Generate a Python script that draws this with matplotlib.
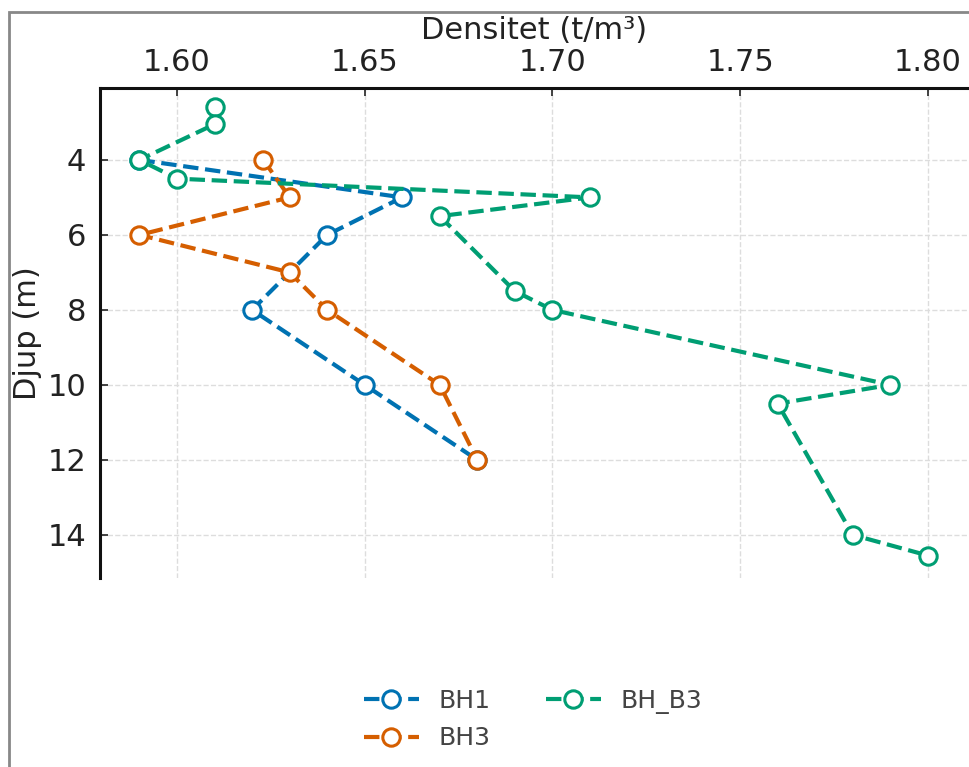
import matplotlib.pyplot as plt
from matplotlib.patches import Rectangle

# density (t/m3) vs depth (m) per borehole
bh1_density = [1.59, 1.66, 1.64, 1.62, 1.65, 1.68]
bh1_depth = [4, 5, 6, 8, 10, 12]

bh3_density = [1.623, 1.63, 1.59, 1.63, 1.64, 1.67, 1.68]
bh3_depth = [4, 5, 6, 7, 8, 10, 12]

bhb3_density = [1.61, 1.61, 1.59, 1.60, 1.71, 1.67, 1.69, 1.70, 1.79, 1.76, 1.78, 1.80]
bhb3_depth = [2.6, 3.05, 4, 4.5, 5, 5.5, 7.5, 8, 10, 10.5, 14, 14.55]

series = [
    ("BH1", bh1_density, bh1_depth, "#0072B2"),
    ("BH3", bh3_density, bh3_depth, "#D55E00"),
    ("BH_B3", bhb3_density, bhb3_depth, "#009E73"),
]

fig = plt.figure(figsize=(9.69, 7.67), dpi=100)
ax = fig.add_axes([0.1032, 0.2464, 0.895, 0.639])

for name, dens, depth, col in series:
    ax.plot(dens, depth, linestyle="--", color=col, lw=3.0,
            marker="o", markersize=12.5, markerfacecolor="white",
            markeredgecolor=col, markeredgewidth=2.2, label=name)

ax.set_xlim(1.5795, 1.8105)
ax.set_ylim(15.15, 2.08)
ax.set_xticks([1.60, 1.65, 1.70, 1.75, 1.80])
ax.set_yticks([4, 6, 8, 10, 12, 14])
ax.xaxis.set_major_formatter(plt.FormatStrFormatter("%.2f"))

ax.xaxis.tick_top()
ax.xaxis.set_label_position("top")
ax.set_xlabel("Densitet (t/m³)", fontsize=22, color="#222222", labelpad=6)
ax.set_ylabel("Djup (m)", fontsize=22, color="#222222", labelpad=4)
ax.tick_params(axis="both", direction="in", length=6, width=1.2,
               labelsize=22, colors="#222222", pad=10)
ax.tick_params(axis="x", pad=8)

for side in ["bottom", "right"]:
    ax.spines[side].set_visible(False)
for side in ["left", "top"]:
    ax.spines[side].set_linewidth(2.2)
    ax.spines[side].set_color("#111111")

ax.grid(True, linestyle="--", color="#dddddd", lw=1.0)
ax.set_axisbelow(True)

leg = ax.legend(loc="center", bbox_to_anchor=(0.55, 0.062),
                bbox_transform=fig.transFigure, ncol=2, frameon=False,
                fontsize=18, handlelength=2.2, handletextpad=0.8,
                columnspacing=2.2, labelspacing=0.55)
for t in leg.get_texts():
    t.set_color("#444444")

# outer frame line seen at left and top of the picture
fig.patches.append(Rectangle((8.5 / 969, -0.05), 1.2, 1.05 - 12 / 767,
                             transform=fig.transFigure, fill=False,
                             edgecolor="#888888", lw=2, clip_on=False))

fig.savefig("out.png", dpi=100)
